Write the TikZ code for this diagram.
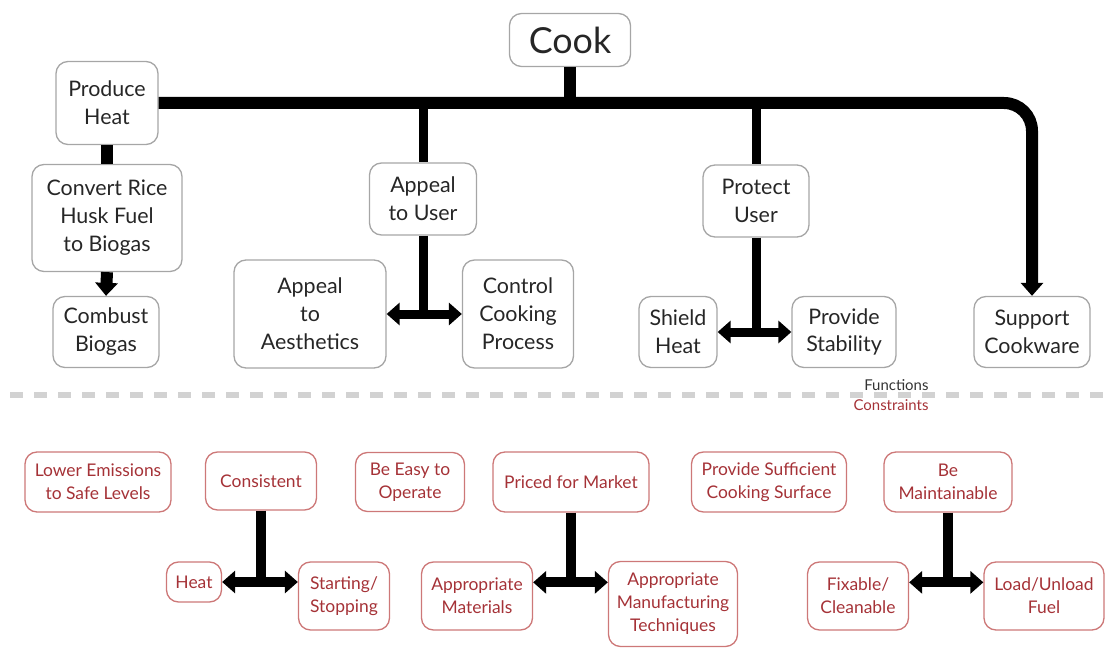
\documentclass[tikz,border=0pt]{standalone}
\usepackage{fontspec}
\setmainfont{Lato}
\usetikzlibrary{arrows.meta}
\definecolor{conRed}{RGB}{165,50,55}
\definecolor{conEdge}{RGB}{205,120,120}
\begin{document}
\begin{tikzpicture}[x=1bp,y=-1bp,funcS/.style={draw=gray!70,line width=1.3bp,rounded corners=12bp,align=center,text=black!85,font=\fontsize{21.5}{28}\selectfont,inner sep=0pt},consS/.style={draw=conEdge,line width=1.3bp,rounded corners=12bp,align=center,text=conRed,font=\fontsize{17.5}{23}\selectfont,inner sep=0pt},barF/.style={line width=12bp},barS/.style={line width=9bp},barC/.style={line width=10bp},tipS/.style={-{Triangle[length=13bp,width=22bp]}},dtipS/.style={{Triangle[length=13bp,width=22bp]}-{Triangle[length=13bp,width=22bp]}},tagS/.style={anchor=east,font=\fontsize{15}{16}\selectfont}]
\useasboundingbox (0,0) rectangle (1107,648);
\node[funcS,minimum width=121bp,minimum height=53bp,font=\fontsize{36}{40}\selectfont] (Cook) at (570,40) {Cook};
\node[funcS,minimum width=102bp,minimum height=83bp] (PH) at (107,103) {Produce\\Heat};
\node[funcS,minimum width=150bp,minimum height=107bp] (CR) at (107,218) {Convert Rice\\Husk Fuel\\to Biogas};
\node[funcS,minimum width=106bp,minimum height=71bp] (CB) at (106,332) {Combust\\Biogas};
\node[funcS,minimum width=107bp,minimum height=72bp] (AU) at (423,199) {Appeal\\to User};
\node[funcS,minimum width=152bp,minimum height=108bp] (AA) at (310,314) {Appeal\\to\\Aesthetics};
\node[funcS,minimum width=111bp,minimum height=108bp] (CC) at (518,314) {Control\\Cooking\\Process};
\node[funcS,minimum width=106bp,minimum height=72bp] (PU) at (756,201) {Protect\\User};
\node[funcS,minimum width=78bp,minimum height=71bp] (SH) at (678,332) {Shield\\Heat};
\node[funcS,minimum width=104bp,minimum height=71bp] (PS) at (844,332) {Provide\\Stability};
\node[funcS,minimum width=116bp,minimum height=71bp] (SC) at (1032,332) {Support\\Cookware};
\draw[barF] (Cook.south) -- (Cook.south |- PH.east);
\draw[barF,tipS,rounded corners=28bp] (PH.east) -- (PH.east -| SC.north) -- (SC.north);
\draw[barF] (PH.south) -- (CR.north);
\draw[barF,tipS] (CR.south) -- (CB.north);
\draw[barS] (AU.north |- PH.east) -- (AU.north);
\draw[barS] (AU.south) -- (AU.south |- AA.east);
\draw[barS,dtipS] (AA.east) -- (CC.west);
\draw[barS] (PU.north |- PH.east) -- (PU.north);
\draw[barS] (PU.south) -- (PU.south |- SH.east);
\draw[barS,dtipS] (SH.east) -- (PS.west);
\draw[gray!35,line width=6bp,dash pattern=on 13bp off 11bp] (10,395) -- (1107,395);
\node[tagS,text=black!80] (FN) at (932,385) {Functions};
\node[tagS,text=conRed] (CN) at (932,405) {Constraints};
\node[consS,minimum width=146bp,minimum height=60bp] (LE) at (98,482) {Lower Emissions\\to Safe Levels};
\node[consS,minimum width=111bp,minimum height=58bp] (CO) at (261,481) {Consistent};
\node[consS,minimum width=109bp,minimum height=59bp] (BE) at (410,482) {Be Easy to\\Operate};
\node[consS,minimum width=156bp,minimum height=60bp] (PM) at (571,482) {Priced for Market};
\node[consS,minimum width=155bp,minimum height=60bp] (PSC) at (769,482) {Provide Sufficient\\Cooking Surface};
\node[consS,minimum width=128bp,minimum height=60bp] (BM) at (948,482) {Be\\Maintainable};
\node[consS,minimum width=55bp,minimum height=40bp] (HT) at (194,582) {Heat};
\node[consS,minimum width=91bp,minimum height=68bp] (SS) at (344,596) {Starting/\\Stopping};
\node[consS,minimum width=111bp,minimum height=68bp] (AM) at (477,596) {Appropriate\\Materials};
\node[consS,minimum width=129bp,minimum height=85bp] (AMT) at (673,604) {Appropriate\\Manufacturing\\Techniques};
\node[consS,minimum width=101bp,minimum height=68bp] (FC) at (858,596) {Fixable/\\Cleanable};
\node[consS,minimum width=120bp,minimum height=68bp] (LU) at (1044,596) {Load/Unload\\Fuel};
\coordinate (AMa) at ([yshift=-21bp]AM.north east);
\coordinate (FCa) at ([yshift=-21bp]FC.north east);
\draw[barC] (CO.south) -- (CO.south |- HT.east);
\draw[barC,dtipS] (HT.east) -- (HT.east -| SS.west);
\draw[barC] (PM.south) -- (PM.south |- AMa);
\draw[barC,dtipS] (AMa) -- (AMa -| AMT.west);
\draw[barC] (BM.south) -- (BM.south |- FCa);
\draw[barC,dtipS] (FCa) -- (FCa -| LU.west);
\end{tikzpicture}
\end{document}
